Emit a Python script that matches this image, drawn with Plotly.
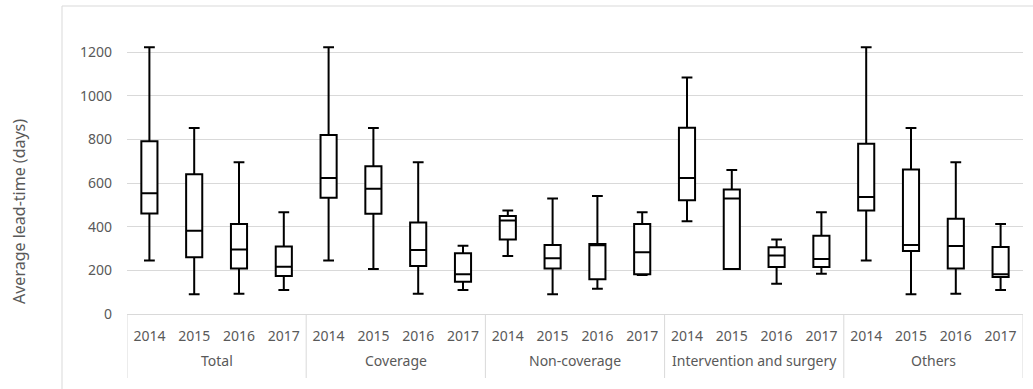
import plotly.graph_objects as go

# Lead-time distributions by category and year
groups = ["Total", "Coverage", "Non-coverage", "Intervention and surgery", "Others"]
years = ["2014", "2015", "2016", "2017"]

lower = [245, 90, 93, 110,
         245, 206, 93, 110,
         266, 90, 116, 179,
         425, 206, 139, 185,
         245, 90, 93, 110]
q1 = [461, 260, 208, 174,
      533, 460, 220, 148,
      342, 209, 159, 182,
      521, 206, 215, 215,
      474, 289, 208, 170]
median = [553, 382, 296, 217,
          623, 574, 293, 182,
          428, 255, 315, 283,
          623, 529, 268, 252,
          536, 316, 312, 182]
q3 = [792, 641, 412, 309,
      820, 677, 419, 278,
      449, 316, 321, 412,
      854, 571, 306, 359,
      780, 662, 437, 307]
upper = [1223, 852, 696, 466,
         1223, 852, 696, 313,
         474, 529, 541, 466,
         1084, 660, 342, 466,
         1223, 852, 696, 412]

y_ticks = [0, 200, 400, 600, 800, 1000, 1200]

n_years = len(years)
positions = list(range(len(groups) * n_years))
tick_text = years * len(groups)

GRID = "#d9d9d9"
TEXT = "#595959"
FONT = "Noto Sans"
FS = 14

fig = go.Figure()
fig.add_trace(go.Box(
    x=positions,
    q1=q1, median=median, q3=q3,
    lowerfence=lower, upperfence=upper,
    width=0.36, whiskerwidth=0.67,
    line=dict(color="black", width=2),
    fillcolor="white",
    boxpoints=False,
    showlegend=False,
))

# Plot area geometry (pixels) used to place paper-referenced decorations
L, R_PX, T, B = 127, 1023, 26, 314
W, H = R_PX - L, B - T


def px_x(p):
    return (p - L) / W


def px_y(p):
    return (B - p) / H


shapes = []
# group dividers under the category axis
for k in range(len(groups) + 1):
    xv = k * n_years - 0.5
    shapes.append(dict(type="line", xref="x", yref="paper",
                       x0=xv, x1=xv, y0=0, y1=px_y(378),
                       line=dict(color=GRID, width=1)))
# chart frame
shapes.append(dict(type="line", xref="paper", yref="paper",
                   x0=px_x(62), x1=px_x(1045), y0=px_y(6), y1=px_y(6),
                   line=dict(color=GRID, width=1)))
shapes.append(dict(type="line", xref="paper", yref="paper",
                   x0=px_x(62), x1=px_x(62), y0=px_y(6), y1=px_y(400),
                   line=dict(color=GRID, width=1)))

annotations = []
for k, g in enumerate(groups):
    annotations.append(dict(x=k * n_years + (n_years - 1) / 2, xref="x",
                            y=px_y(360), yref="paper", text=g,
                            showarrow=False, xanchor="center", yanchor="middle",
                            font=dict(family=FONT, size=FS, color=TEXT)))
annotations.append(dict(x=px_x(19), xref="paper", y=px_y(212), yref="paper",
                        text="Average lead-time (days)", textangle=-90,
                        showarrow=False, xanchor="center", yanchor="middle",
                        font=dict(family=FONT, size=FS + 2, color=TEXT)))

fig.update_layout(
    width=1033, height=389,
    margin=dict(l=L, r=1033 - R_PX, t=T, b=389 - B),
    paper_bgcolor="white", plot_bgcolor="white",
    font=dict(family=FONT, size=FS, color=TEXT),
    shapes=shapes, annotations=annotations,
    xaxis=dict(range=[-0.5, len(positions) - 0.5],
               tickvals=positions, ticktext=tick_text,
               showgrid=False, zeroline=False,
               showline=True, linecolor=GRID, linewidth=1,
               ticks="", ticklabelstandoff=9,
               tickfont=dict(family=FONT, size=FS, color=TEXT)),
    yaxis=dict(range=[0, 1320], tickvals=y_ticks,
               showgrid=True, gridcolor=GRID, gridwidth=1,
               zeroline=False, showline=False, ticks="",
               ticklabelstandoff=14,
               tickfont=dict(family=FONT, size=FS, color=TEXT)),
)

fig.write_html("out.html")
